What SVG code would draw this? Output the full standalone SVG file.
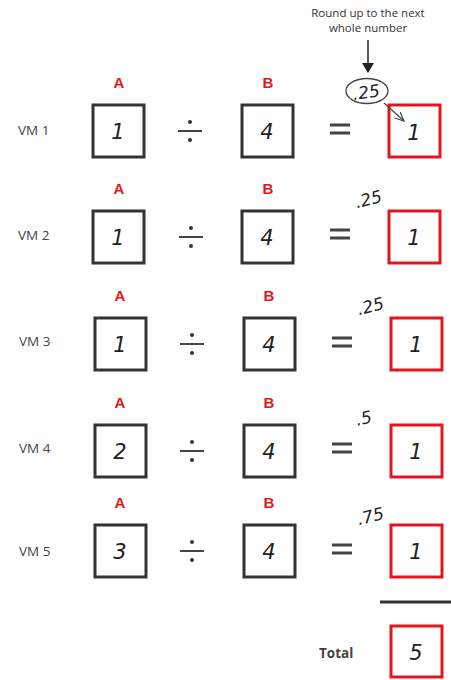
<svg xmlns="http://www.w3.org/2000/svg" width="451" height="680" viewBox="0 0 451 680">
<style>
.bk{fill:#fff;stroke:#333;stroke-width:3}
.rd{fill:#fff;stroke:#e3161e;stroke-width:3}
.lbl{font-family:"Open Sans","DejaVu Sans",sans-serif;font-size:13.5px;fill:#444}
.ab{font-family:"Liberation Sans",Arial,sans-serif;font-weight:bold;font-size:15px;fill:#e3161e;text-anchor:middle}
.dg{font-family:"DejaVu Sans",sans-serif;font-style:italic;font-size:21px;fill:#222;text-anchor:middle}
.sm{font-family:"DejaVu Sans",sans-serif;font-style:italic;font-size:17px;fill:#222;text-anchor:middle}
.note{font-family:"Open Sans","DejaVu Sans",sans-serif;font-size:11.5px;fill:#333;text-anchor:middle}
</style>
<defs>
<marker id="ah" markerWidth="10" markerHeight="12" refX="9" refY="6" orient="auto" markerUnits="userSpaceOnUse"><path d="M0,0 L10,6 L0,12 Z" fill="#222"/></marker>
<marker id="ao" markerWidth="10" markerHeight="10" refX="9" refY="5" orient="auto" markerUnits="userSpaceOnUse"><path d="M0,1 L9,5 L0,9" fill="none" stroke="#444" stroke-width="1.2"/></marker>
<g id="div"><line x1="-12" y1="0" x2="12" y2="0" stroke="#444" stroke-width="2"/><circle cx="0" cy="-9" r="2" fill="#333"/><circle cx="0" cy="9" r="2" fill="#333"/></g>
<g id="eq"><line x1="-10" y1="-4" x2="10" y2="-4" stroke="#444" stroke-width="3"/><line x1="-10" y1="4" x2="10" y2="4" stroke="#444" stroke-width="3"/></g>
</defs>

<g id="note">
<text class="note" x="368" y="17">Round up to the next</text>
<text class="note" x="368" y="32">whole number</text>
</g>

<g id="row1">
<text class="lbl" x="18" y="135">VM 1</text>
<text class="ab" x="119" y="88">A</text>
<rect class="bk" x="93" y="105" width="51" height="52"/>
<text class="dg" x="118" y="139">1</text>
<use href="#div" x="190" y="131"/>
<text class="ab" x="268" y="88">B</text>
<rect class="bk" x="242" y="105" width="51" height="52"/>
<text class="dg" x="267" y="139">4</text>
<use href="#eq" x="340" y="129"/>
<rect class="rd" x="389" y="105" width="51" height="52"/>
<text class="dg" x="414" y="140">1</text>
<ellipse cx="367" cy="91" rx="21" ry="12.5" fill="none" stroke="#444" stroke-width="1.3"/>
<text class="sm" x="367" y="98" transform="rotate(-8 367 98)">.25</text>
</g>

<g id="row2">
<text class="lbl" x="18" y="240">VM 2</text>
<text class="ab" x="119" y="194">A</text>
<rect class="bk" x="93" y="211" width="51" height="52"/>
<text class="dg" x="118" y="245">1</text>
<use href="#div" x="191" y="237"/>
<text class="ab" x="268" y="194">B</text>
<rect class="bk" x="242" y="211" width="51" height="52"/>
<text class="dg" x="267" y="245">4</text>
<use href="#eq" x="340" y="234"/>
<text class="sm" x="370" y="205" transform="rotate(-14 370 205)">.25</text>
<rect class="rd" x="389" y="211" width="51" height="52"/>
<text class="dg" x="414" y="245">1</text>
</g>

<g id="row3">
<text class="lbl" x="19" y="346">VM 3</text>
<text class="ab" x="120" y="301">A</text>
<rect class="bk" x="95" y="318" width="51" height="52"/>
<text class="dg" x="120" y="352">1</text>
<use href="#div" x="192" y="344"/>
<text class="ab" x="269" y="301">B</text>
<rect class="bk" x="244" y="318" width="51" height="52"/>
<text class="dg" x="269" y="352">4</text>
<use href="#eq" x="342" y="342"/>
<text class="sm" x="372" y="312" transform="rotate(-14 372 312)">.25</text>
<rect class="rd" x="391" y="318" width="51" height="52"/>
<text class="dg" x="416" y="352">1</text>
</g>

<g id="row4">
<text class="lbl" x="19" y="453">VM 4</text>
<text class="ab" x="120" y="408">A</text>
<rect class="bk" x="95" y="425" width="51" height="52"/>
<text class="dg" x="120" y="459">2</text>
<use href="#div" x="192" y="451"/>
<text class="ab" x="269" y="408">B</text>
<rect class="bk" x="244" y="425" width="51" height="52"/>
<text class="dg" x="269" y="459">4</text>
<use href="#eq" x="342" y="448"/>
<text class="sm" x="365" y="424" transform="rotate(-12 365 424)">.5</text>
<rect class="rd" x="391" y="425" width="51" height="52"/>
<text class="dg" x="416" y="459">1</text>
</g>

<g id="row5">
<text class="lbl" x="19" y="556">VM 5</text>
<text class="ab" x="120" y="508">A</text>
<rect class="bk" x="95" y="525" width="51" height="52"/>
<text class="dg" x="120" y="559">3</text>
<use href="#div" x="192" y="551"/>
<text class="ab" x="269" y="508">B</text>
<rect class="bk" x="244" y="525" width="51" height="52"/>
<text class="dg" x="269" y="559">4</text>
<use href="#eq" x="342" y="549"/>
<text class="sm" x="372" y="522" transform="rotate(-14 372 522)">.75</text>
<rect class="rd" x="391" y="525" width="51" height="52"/>
<text class="dg" x="416" y="559">1</text>
</g>

<g id="total">
<line x1="380" y1="602" x2="451" y2="602" stroke="#333" stroke-width="3"/>
<text class="lbl" x="319" y="658" font-weight="bold" fill="#333" font-size="14">Total</text>
<rect class="rd" x="391" y="626" width="51" height="51"/>
<text class="dg" x="416" y="660">5</text>
</g>

<g id="connectors">
<line x1="368" y1="40" x2="368" y2="72" stroke="#222" stroke-width="1.5" marker-end="url(#ah)"/>
<line x1="384" y1="103" x2="404" y2="121" stroke="#444" stroke-width="1.2" marker-end="url(#ao)"/>
</g>
</svg>
